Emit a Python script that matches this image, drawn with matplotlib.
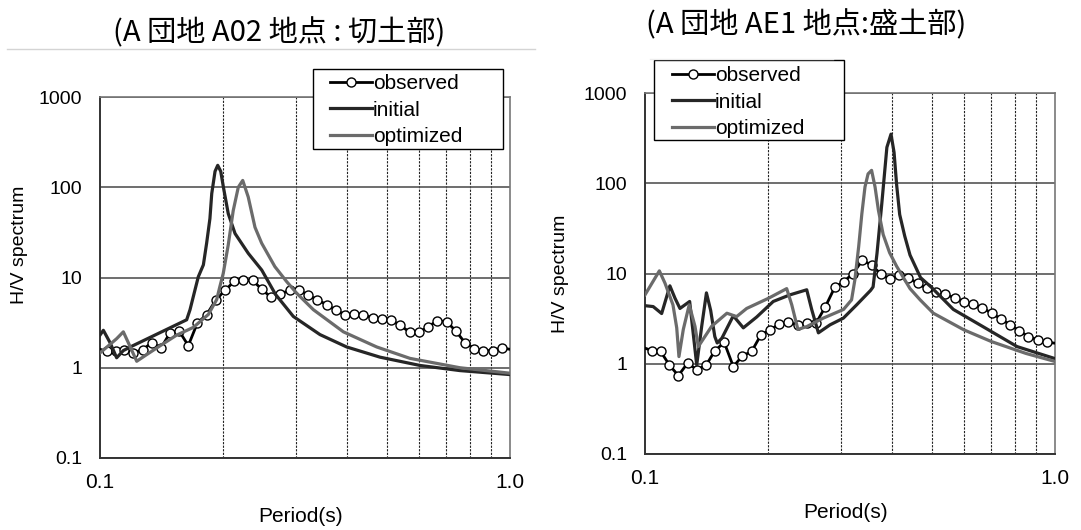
import matplotlib
matplotlib.use("Agg")
import matplotlib.pyplot as plt
from matplotlib.lines import Line2D
from matplotlib.patches import Rectangle
from matplotlib.ticker import FixedLocator, NullFormatter

# observation periods (s); first and last entries are the line ends at the frame
period_obs = [0.1, 0.1038, 0.1092, 0.1146, 0.1206, 0.1271, 0.1337, 0.1409, 0.1481,
              0.1561, 0.1642, 0.1728, 0.1820, 0.1918, 0.2018, 0.2122, 0.2236,
              0.2357, 0.2479, 0.2613, 0.2754, 0.2902, 0.3051, 0.3217, 0.3389,
              0.3572, 0.3764, 0.3959, 0.4173, 0.4388, 0.4624, 0.4874, 0.5125,
              0.5401, 0.5692, 0.5998, 0.6310, 0.6650, 0.7009, 0.7384, 0.7768,
              0.8185, 0.8610, 0.9074, 0.9544, 1.0]

# --- A02 (cut) ---
obs_a02 = [1.6, 1.53, 1.53, 1.59, 1.46, 1.59, 1.89, 1.66, 2.43, 2.54, 1.76,
           3.14, 3.87, 5.67, 7.19, 9.03, 9.27, 9.27, 7.44, 6.02, 6.61,
           7.19, 7.31, 6.38, 5.67, 5.0, 4.33, 3.87, 3.97, 3.87, 3.56,
           3.47, 3.36, 2.96, 2.47, 2.47, 2.83, 3.33, 3.24, 2.54, 1.89,
           1.63, 1.55, 1.55, 1.66, 1.6]

period_ini_a02 = [0.1, 0.1019, 0.1058, 0.1098, 0.1140, 0.1195, 0.1627, 0.1658,
                  0.1705, 0.1737, 0.1787, 0.1820, 0.1854, 0.1873, 0.1908, 0.1937,
                  0.1970, 0.2000, 0.2055, 0.2135, 0.2300, 0.2480, 0.2680, 0.2962,
                  0.3440, 0.3996, 0.4819, 0.6034, 0.7551, 1.0]
ini_a02 = [2.3, 2.6, 1.9, 1.29, 1.55, 1.73, 3.4, 4.4,
           7.3, 10.2, 13.8, 24, 45, 85, 150, 175,
           150, 100, 51, 30.7, 18.5, 12.1, 6.5, 3.7,
           2.33, 1.70, 1.31, 1.06, 0.93, 0.84]

period_opt_a02 = [0.1, 0.1048, 0.1098, 0.1140, 0.1172, 0.1229, 0.1300, 0.1401,
                  0.1538, 0.1689, 0.1838, 0.1926, 0.1960, 0.1998, 0.2055, 0.2113,
                  0.2174, 0.2229, 0.2299, 0.2388, 0.2479, 0.2670, 0.2853, 0.3018,
                  0.3314, 0.3923, 0.4730, 0.5703, 0.7551, 1.0]
opt_a02 = [1.46, 1.75, 2.1, 2.5, 1.9, 1.18, 1.4, 1.75,
           2.3, 2.8, 3.9, 5.7, 7.9, 11.1, 23, 55,
           100, 119, 78, 36, 24, 13.2, 9.0, 6.7,
           4.4, 2.5, 1.7, 1.27, 1.0, 0.87]

# --- AE1 (fill) ---
obs_ae1 = [1.49, 1.40, 1.37, 0.97, 0.74, 1.02, 0.86, 0.96, 1.40, 1.72, 0.93,
           1.22, 1.37, 2.09, 2.37, 2.74, 2.88, 2.69, 2.81, 2.81, 4.29,
           7.01, 8.09, 10.0, 14.0, 12.4, 9.8, 8.7, 9.59, 8.96, 7.76,
           6.83, 6.17, 5.87, 5.39, 4.87, 4.55, 4.18, 3.62, 3.14, 2.69,
           2.31, 2.00, 1.84, 1.73, 1.69]

period_ini_ae1 = [0.1, 0.1047, 0.1098, 0.1150, 0.1184, 0.1217, 0.1285, 0.1337,
                  0.1375, 0.1412, 0.1446, 0.1480, 0.1500, 0.1540, 0.1642, 0.1737,
                  0.1873, 0.2055, 0.2257, 0.2480, 0.2550, 0.2648, 0.2827, 0.3046,
                  0.3283, 0.3550, 0.3600, 0.3680, 0.3780, 0.3890, 0.3981, 0.4050,
                  0.4110, 0.4180, 0.4300, 0.4430, 0.4700, 0.5000, 0.5650, 0.6700,
                  0.8080, 1.0]
ini_ae1 = [4.4, 4.3, 3.6, 7.3, 5.3, 4.1, 4.9, 0.97,
           2.6, 6.1, 3.9, 2.0, 1.7, 1.92, 3.4, 2.5,
           3.3, 4.9, 5.8, 6.6, 4.0, 2.2, 2.7, 3.2,
           4.5, 6.5, 7.1, 16.7, 59, 250, 350, 220,
           95, 45, 26, 16, 9.0, 7.0, 4.0, 2.55,
           1.55, 1.14]

period_opt_ae1 = [0.1, 0.1084, 0.1119, 0.1170, 0.1195, 0.1210, 0.1240, 0.1282,
                  0.1324, 0.1349, 0.1454, 0.1584, 0.1673, 0.1770, 0.1998, 0.2216,
                  0.2280, 0.2360, 0.2480, 0.2720, 0.3050, 0.3190, 0.3250, 0.3320,
                  0.3380, 0.3440, 0.3500, 0.3570, 0.3640, 0.3710, 0.3810, 0.3950,
                  0.4110, 0.4430, 0.4690, 0.5050, 0.6000, 0.7000, 0.8500, 1.0]
opt_ae1 = [5.8, 10.7, 7.8, 4.5, 2.5, 1.2, 2.4, 4.5,
           2.6, 1.55, 2.6, 3.63, 3.33, 4.1, 5.3, 6.8,
           4.5, 2.4, 2.58, 3.2, 4.0, 5.1, 8.5, 19.8,
           46, 91, 127, 139, 91, 50, 27, 17,
           12, 6.8, 5.1, 3.63, 2.37, 1.76, 1.3, 1.06]

titles = ["(A 団地 A02 地点 : 切土部)", "(A 団地 AE1 地点:盛土部)"]
labels = ["observed", "initial", "optimized"]

plain = ["Liberation Sans", "DejaVu Sans"]
jp = ["Noto Sans CJK JP", "DejaVu Sans"]

fig = plt.figure(figsize=(10.81, 5.30), dpi=100)
W, H = 1081, 530

def fx(px):
    return px / W

def fy(py):
    return 1 - py / H

panels = [
    dict(box=(100, 97), title=titles[0], title_xy=(279, 33),
         frame=(313, 69, 190, 80), leg=(330, 74), ylab=(-0.175, 0.59),
         obs=obs_a02, ini=(period_ini_a02, ini_a02), opt=(period_opt_a02, opt_a02)),
    dict(box=(645, 93), title=titles[1], title_xy=(806, 25),
         frame=(654, 60, 190, 80), leg=(672, 66), ylab=(-0.185, 0.5),
         obs=obs_ae1, ini=(period_ini_ae1, ini_ae1), opt=(period_opt_ae1, opt_ae1)),
]

for p in panels:
    x0, y0 = p["box"]
    ax = fig.add_axes([fx(x0), fy(y0 + 361), 410 / W, 361 / H])
    ax.set_xscale("log")
    ax.set_yscale("log")
    ax.set_xlim(0.1, 1.0)
    ax.set_ylim(0.1, 1000)

    h_obs, = ax.plot(period_obs, p["obs"], color="black", lw=2.0, marker="o",
                     ms=6.5, mfc="white", mec="black", mew=1.0,
                     markevery=slice(1, -1), zorder=3)
    h_ini, = ax.plot(*p["ini"], color="#262626", lw=2.3, zorder=4)
    h_opt, = ax.plot(*p["opt"], color="#6b6b6b", lw=2.3, zorder=5)

    ax.xaxis.set_major_locator(FixedLocator([0.1, 1.0]))
    ax.set_xticklabels(["0.1", "1.0"])
    ax.xaxis.set_minor_locator(FixedLocator([0.2, 0.3, 0.4, 0.5, 0.6, 0.7, 0.8, 0.9]))
    ax.xaxis.set_minor_formatter(NullFormatter())
    ax.yaxis.set_major_locator(FixedLocator([0.1, 1, 10, 100, 1000]))
    ax.set_yticklabels(["0.1", "1", "10", "100", "1000"])
    ax.yaxis.set_minor_locator(FixedLocator([]))

    ax.grid(True, which="major", axis="y", color="#555555", lw=1.2)
    ax.grid(True, which="minor", axis="x", color="#222222", lw=0.8,
            linestyle=(0, (2, 1.2)))
    ax.set_axisbelow(True)
    ax.tick_params(which="both", length=0)
    ax.tick_params(axis="y", pad=13, labelsize=14)
    ax.tick_params(axis="x", pad=11, labelsize=15)
    for t in ax.get_xticklabels() + ax.get_yticklabels():
        t.set_family(plain)

    for side in ("left", "bottom"):
        ax.spines[side].set_color("#333333")
        ax.spines[side].set_linewidth(1.4)
    for side in ("top", "right"):
        ax.spines[side].set_color("#777777")
        ax.spines[side].set_linewidth(1.2)

    ax.set_xlabel("Period(s)", fontsize=15, family=plain)
    ax.xaxis.set_label_coords(0.49, -0.135)
    ax.set_ylabel("H/V spectrum", fontsize=14, family=plain)
    ax.yaxis.set_label_coords(*p["ylab"])

    # legend box, wider than its entries
    bx, by, bw, bh = p["frame"]
    fig.add_artist(Rectangle((fx(bx), fy(by + bh)), bw / W, bh / H,
                             transform=fig.transFigure, facecolor="white",
                             edgecolor="black", lw=1.0, zorder=2))
    lx, ly = p["leg"]
    leg = fig.legend([h_obs, h_ini, h_opt], labels, loc="upper left",
                     bbox_to_anchor=(fx(lx), fy(ly)), frameon=False,
                     borderaxespad=0, borderpad=0, handlelength=2.0,
                     handletextpad=0.05, labelspacing=0.36,
                     prop=dict(family=plain, size=15))
    leg.set_zorder(3)

    tx, ty = p["title_xy"]
    fig.text(fx(tx), fy(ty), p["title"], ha="center", va="center",
             fontsize=21, family=jp)

# thin rules under the headings
fig.add_artist(Line2D([fx(7), fx(535)], [fy(49), fy(49)],
                      color="#d4d4d4", lw=1.0))
fig.add_artist(Line2D([fx(650), fx(833)], [fy(59), fy(59)],
                      color="#ececec", lw=1.0))

fig.savefig("out.png", dpi=100)
